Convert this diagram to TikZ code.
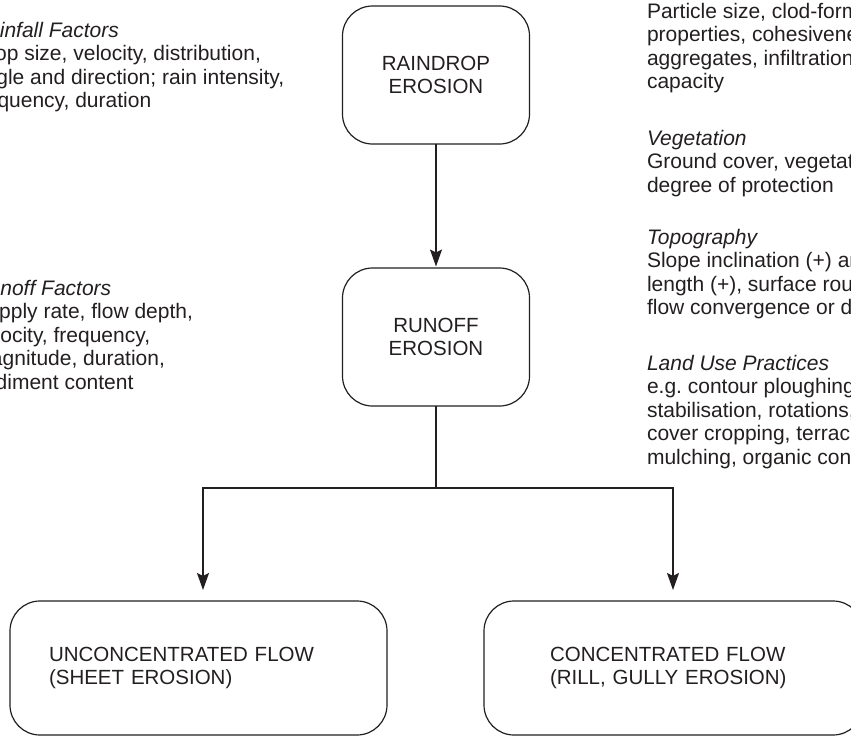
\documentclass[tikz,border=0pt]{standalone}
\usepackage{fontspec}
\setmainfont{Liberation Sans}
\usetikzlibrary{arrows.meta}
\definecolor{ink}{HTML}{231F20}
\begin{document}
\begin{tikzpicture}[x=1pt,y=-1pt,
  every node/.style={inner sep=0pt, outer sep=0pt, text=ink, font=\fontsize{20.5}{23.5}\selectfont},
  box/.style={draw=ink, line width=1.2pt, rounded corners=30pt, align=center},
  factor/.style={anchor=base west, align=left, font=\fontsize{21}{23.5}\selectfont},
  link/.style={draw=ink, line width=1.6pt},
  arr/.style={link, -{Stealth[length=17pt,width=12pt,inset=3pt]}}]
\useasboundingbox (0,0) rectangle (851,736);
\clip (0,0) rectangle (851,736);

% process boxes
\node[box, minimum width=187pt, minimum height=138pt] (rain) at (436,75) {RAINDROP\\EROSION};
\node[box, minimum width=187pt, minimum height=138pt] (runoff) at (436,337) {RUNOFF\\EROSION};
\node[box, minimum width=377pt, minimum height=134pt, text width=299pt, align=left] (sheet) at (198.5,668) {UNCONCENTRATED FLOW\\(SHEET EROSION)};
\node[box, minimum width=379pt, minimum height=134pt, text width=247pt, align=left] (conc) at (673.5,668) {CONCENTRATED FLOW\\(RILL, GULLY EROSION)};

% factor texts (anchored at the baseline of their last line)
\node[factor] (rainf) at (-27,107.5) {\textit{Rainfall Factors}\\Drop size, velocity, distribution,\\angle and direction; rain intensity,\\frequency, duration};
\node[factor] (runf) at (-26.5,389) {\textit{Runoff Factors}\\Supply rate, flow depth,\\velocity, frequency,\\magnitude, duration,\\sediment content};
\node[factor] (soil) at (647,88.5) {Particle size, clod-forming\\properties, cohesiveness of\\aggregates, infiltration\\capacity};
\node[factor] (veg) at (647,192) {\textit{Vegetation}\\Ground cover, vegetation height,\\degree of protection};
\node[factor] (topo) at (647,314.5) {\textit{Topography}\\Slope inclination (+) and\\length (+), surface roughness,\\flow convergence or divergence};
\node[factor] (land) at (647,464) {\textit{Land Use Practices}\\e.g.\ contour ploughing, bank\\stabilisation, rotations,\\cover cropping, terracing,\\mulching, organic content};

% connectors
\coordinate (split) at (436,488);
\draw[arr, shorten >=1.5pt] (rain) -- (runoff);
\draw[link] (runoff) -- (split);
\draw[arr, shorten >=11pt] (split) -| ([xshift=4.5pt]sheet.north);
\draw[arr, shorten >=11pt] (split) -| ([xshift=-0.5pt]conc.north);
\end{tikzpicture}
\end{document}
